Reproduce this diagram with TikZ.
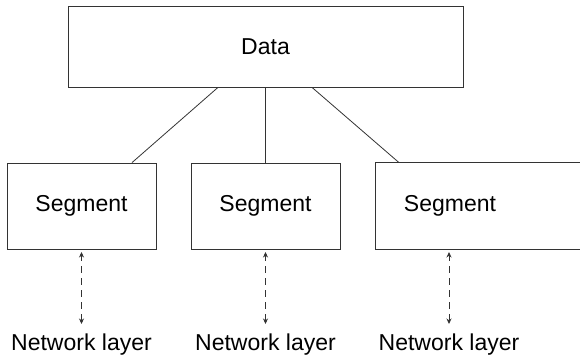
\documentclass[tikz,border=0pt]{standalone}
\usepackage{fontspec}
\setmainfont{Liberation Sans}
\usetikzlibrary{positioning,arrows.meta,calc}
\definecolor{boxline}{HTML}{333333}

\begin{document}
\begin{tikzpicture}[
  x=1pt, y=1pt,
  font=\fontsize{23}{27}\selectfont,
  block/.style={draw=boxline, line width=0.8pt, inner sep=0pt, minimum height=86pt, minimum width=149pt},
  topblock/.style={block, minimum height=81pt, minimum width=395pt},
  link/.style={draw=boxline, line width=0.8pt},
  dlink/.style={link, dash pattern=on 7pt off 5pt,
                {Stealth[length=5.5pt,width=5pt]}-{Stealth[length=5.5pt,width=5pt]}},
  lab/.style={inner sep=0pt, anchor=base}
]
\useasboundingbox (0,0) rectangle (580,359);
\clip (0,0) rectangle (580,359);
% ================= top block =================
\node[topblock] (data) at (265.5,312.5) {Data};
% ================= segments =================
\node[block] (seg1) at (81.5,153) {Segment};
\node[block] (seg2) at (265.5,153) {Segment};
\node[block, draw=none] (seg3) at (450,153) {Segment};
% third box runs off the right edge
\draw[link] (seg3.north west) rectangle ([xshift=120pt]seg3.south east);
% ----- data -> segments -----
\draw[link] ([xshift=-47.5pt]data.south) -- ([xshift=50.5pt]seg1.north);
\draw[link] (data.south) -- (seg2.north);
\draw[link] ([xshift=46.5pt]data.south) -- ([xshift=-51pt]seg3.north);
% ================= network layer labels =================
\foreach \i/\x in {1/81.5, 2/265.5, 3/449}{
  \node[lab] (net\i) at (\x,9) {Network layer};
  \coordinate (up\i) at (\x,107);
  \coordinate (dn\i) at (\x,35);
  \draw[dlink] (dn\i) -- (up\i);
}
\end{tikzpicture}
\end{document}
